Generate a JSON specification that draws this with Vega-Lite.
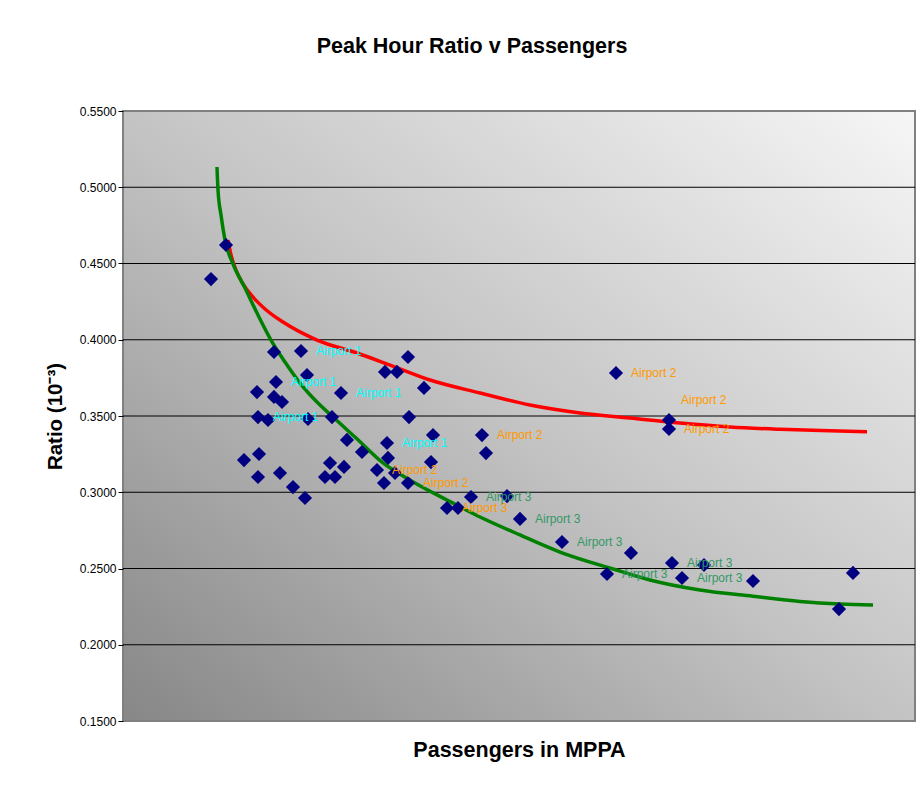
{
  "$schema": "https://vega.github.io/schema/vega-lite/v6.json",
  "width": 792,
  "height": 610,
  "autosize": {"type": "none"},
  "padding": {"left": 123, "top": 111, "right": 6, "bottom": 68},
  "background": "white",
  "config": {
    "view": {"stroke": null},
    "font": "Liberation Sans"
  },
  "title": {
    "text": "Peak Hour Ratio v Passengers",
    "fontSize": 21.5,
    "fontWeight": "bold",
    "font": "Liberation Sans",
    "color": "#000000",
    "anchor": "middle",
    "dx": -47,
    "offset": 48
  },
  "datasets": {
    "points": [
      {"id": 1, "mppa": 4.40, "ratio": 0.4398, "label": "", "group": "A1"},
      {"id": 2, "mppa": 5.15, "ratio": 0.4621, "label": "", "group": "A1"},
      {"id": 3, "mppa": 6.05, "ratio": 0.3211, "label": "", "group": "A1"},
      {"id": 4, "mppa": 6.70, "ratio": 0.3657, "label": "", "group": "A1"},
      {"id": 5, "mppa": 6.80, "ratio": 0.3251, "label": "", "group": "A1"},
      {"id": 6, "mppa": 6.75, "ratio": 0.3100, "label": "", "group": "A1"},
      {"id": 7, "mppa": 6.75, "ratio": 0.3493, "label": "Airport 1", "group": "A1"},
      {"id": 8, "mppa": 7.25, "ratio": 0.3474, "label": "", "group": "A1"},
      {"id": 9, "mppa": 7.55, "ratio": 0.3920, "label": "", "group": "A1"},
      {"id": 10, "mppa": 7.65, "ratio": 0.3723, "label": "Airport 1", "group": "A1"},
      {"id": 11, "mppa": 7.55, "ratio": 0.3625, "label": "", "group": "A1"},
      {"id": 12, "mppa": 7.95, "ratio": 0.3592, "label": "", "group": "A1"},
      {"id": 13, "mppa": 7.85, "ratio": 0.3126, "label": "", "group": "A1"},
      {"id": 14, "mppa": 8.50, "ratio": 0.3034, "label": "", "group": "A1"},
      {"id": 15, "mppa": 8.90, "ratio": 0.3926, "label": "Airport 1", "group": "A1"},
      {"id": 16, "mppa": 9.10, "ratio": 0.2962, "label": "", "group": "A1"},
      {"id": 17, "mppa": 9.20, "ratio": 0.3769, "label": "", "group": "A1"},
      {"id": 18, "mppa": 9.25, "ratio": 0.3480, "label": "", "group": "A1"},
      {"id": 19, "mppa": 10.10, "ratio": 0.3100, "label": "", "group": "A1"},
      {"id": 20, "mppa": 10.35, "ratio": 0.3192, "label": "", "group": "A1"},
      {"id": 21, "mppa": 10.60, "ratio": 0.3100, "label": "", "group": "A1"},
      {"id": 22, "mppa": 10.45, "ratio": 0.3493, "label": "", "group": "A1"},
      {"id": 23, "mppa": 10.90, "ratio": 0.3651, "label": "Airport 1", "group": "A1"},
      {"id": 24, "mppa": 11.20, "ratio": 0.3343, "label": "", "group": "A1"},
      {"id": 25, "mppa": 11.05, "ratio": 0.3166, "label": "", "group": "A1"},
      {"id": 26, "mppa": 11.95, "ratio": 0.3264, "label": "", "group": "A1"},
      {"id": 27, "mppa": 12.70, "ratio": 0.3146, "label": "Airport 2", "group": "A2"},
      {"id": 28, "mppa": 13.10, "ratio": 0.3789, "label": "", "group": "A1"},
      {"id": 29, "mppa": 13.20, "ratio": 0.3323, "label": "Airport 1", "group": "A1"},
      {"id": 30, "mppa": 13.25, "ratio": 0.3225, "label": "", "group": "A1"},
      {"id": 31, "mppa": 13.05, "ratio": 0.3061, "label": "", "group": "A1"},
      {"id": 32, "mppa": 13.70, "ratio": 0.3789, "label": "", "group": "A1"},
      {"id": 33, "mppa": 14.25, "ratio": 0.3887, "label": "", "group": "A1"},
      {"id": 34, "mppa": 13.60, "ratio": 0.3126, "label": "", "group": "A1"},
      {"id": 35, "mppa": 14.30, "ratio": 0.3493, "label": "", "group": "A1"},
      {"id": 36, "mppa": 14.25, "ratio": 0.3061, "label": "Airport 2", "group": "A2"},
      {"id": 37, "mppa": 15.05, "ratio": 0.3684, "label": "", "group": "A1"},
      {"id": 38, "mppa": 15.50, "ratio": 0.3375, "label": "", "group": "A1"},
      {"id": 39, "mppa": 15.40, "ratio": 0.3198, "label": "", "group": "A1"},
      {"id": 40, "mppa": 16.20, "ratio": 0.2897, "label": "Airport 3", "group": "A2"},
      {"id": 41, "mppa": 16.75, "ratio": 0.2897, "label": "", "group": "A1"},
      {"id": 42, "mppa": 17.40, "ratio": 0.2969, "label": "Airport 3", "group": "A3"},
      {"id": 43, "mppa": 17.95, "ratio": 0.3375, "label": "Airport 2", "group": "A2"},
      {"id": 44, "mppa": 18.15, "ratio": 0.3257, "label": "", "group": "A1"},
      {"id": 45, "mppa": 19.20, "ratio": 0.2975, "label": "", "group": "A1"},
      {"id": 46, "mppa": 19.85, "ratio": 0.2825, "label": "Airport 3", "group": "A3"},
      {"id": 47, "mppa": 21.95, "ratio": 0.2674, "label": "Airport 3", "group": "A3"},
      {"id": 48, "mppa": 24.20, "ratio": 0.2464, "label": "Airport 3", "group": "A3"},
      {"id": 49, "mppa": 24.65, "ratio": 0.3782, "label": "Airport 2", "group": "A2"},
      {"id": 50, "mppa": 25.40, "ratio": 0.2602, "label": "", "group": "A1"},
      {"id": 51, "mppa": 27.30, "ratio": 0.3474, "label": "Airport 2", "group": "A2"},
      {"id": 52, "mppa": 27.30, "ratio": 0.3415, "label": "Airport 2", "group": "A2"},
      {"id": 53, "mppa": 27.45, "ratio": 0.2536, "label": "Airport 3", "group": "A3"},
      {"id": 54, "mppa": 27.95, "ratio": 0.2438, "label": "Airport 3", "group": "A3"},
      {"id": 55, "mppa": 29.05, "ratio": 0.2523, "label": "", "group": "A1"},
      {"id": 56, "mppa": 31.50, "ratio": 0.2418, "label": "", "group": "A1"},
      {"id": 57, "mppa": 35.80, "ratio": 0.2234, "label": "", "group": "A1"},
      {"id": 58, "mppa": 36.50, "ratio": 0.2471, "label": "", "group": "A1"}
    ],
    "red": [
      {"mppa": 5.25, "ratio": 0.4654},
      {"mppa": 5.40, "ratio": 0.4556},
      {"mppa": 5.65, "ratio": 0.4457},
      {"mppa": 6.00, "ratio": 0.4366},
      {"mppa": 6.45, "ratio": 0.4287},
      {"mppa": 7.10, "ratio": 0.4202},
      {"mppa": 8.00, "ratio": 0.4116},
      {"mppa": 9.70, "ratio": 0.3998},
      {"mppa": 11.70, "ratio": 0.3913},
      {"mppa": 13.35, "ratio": 0.3834},
      {"mppa": 15.35, "ratio": 0.3736},
      {"mppa": 17.85, "ratio": 0.3651},
      {"mppa": 20.35, "ratio": 0.3572},
      {"mppa": 22.85, "ratio": 0.3520},
      {"mppa": 25.35, "ratio": 0.3487},
      {"mppa": 27.85, "ratio": 0.3454},
      {"mppa": 30.35, "ratio": 0.3428},
      {"mppa": 32.85, "ratio": 0.3413},
      {"mppa": 35.35, "ratio": 0.3403},
      {"mppa": 37.20, "ratio": 0.3397}
    ],
    "green": [
      {"mppa": 4.70, "ratio": 0.5133},
      {"mppa": 4.75, "ratio": 0.4982},
      {"mppa": 4.90, "ratio": 0.4818},
      {"mppa": 5.10, "ratio": 0.4654},
      {"mppa": 5.50, "ratio": 0.4497},
      {"mppa": 6.10, "ratio": 0.4339},
      {"mppa": 6.75, "ratio": 0.4162},
      {"mppa": 7.40, "ratio": 0.3998},
      {"mppa": 8.10, "ratio": 0.3854},
      {"mppa": 8.85, "ratio": 0.3716},
      {"mppa": 9.65, "ratio": 0.3598},
      {"mppa": 10.50, "ratio": 0.3493},
      {"mppa": 11.60, "ratio": 0.3362},
      {"mppa": 13.00, "ratio": 0.3192},
      {"mppa": 14.60, "ratio": 0.3061},
      {"mppa": 16.20, "ratio": 0.2949},
      {"mppa": 17.85, "ratio": 0.2838},
      {"mppa": 19.85, "ratio": 0.2720},
      {"mppa": 21.85, "ratio": 0.2608},
      {"mppa": 24.50, "ratio": 0.2497},
      {"mppa": 26.35, "ratio": 0.2425},
      {"mppa": 28.85, "ratio": 0.2359},
      {"mppa": 31.50, "ratio": 0.2318},
      {"mppa": 33.85, "ratio": 0.2284},
      {"mppa": 35.85, "ratio": 0.2267},
      {"mppa": 37.50, "ratio": 0.2261}
    ],
    "grid": [
      {"ratio": 0.20}, {"ratio": 0.25}, {"ratio": 0.30}, {"ratio": 0.35},
      {"ratio": 0.40}, {"ratio": 0.45}, {"ratio": 0.50}
    ]
  },
  "layer": [
    {
      "data": {"values": [{"k": 1}]},
      "mark": {
        "type": "rect",
        "stroke": "#808080",
        "strokeWidth": 2,
        "color": {
          "gradient": "linear",
          "x1": 0, "y1": 1, "x2": 1, "y2": 0,
          "stops": [
            {"offset": 0, "color": "#878787"},
            {"offset": 0.5, "color": "#c4c4c4"},
            {"offset": 1, "color": "#f6f6f6"}
          ]
        }
      },
      "encoding": {
        "x": {"datum": 0, "type": "quantitative"},
        "x2": {"datum": 39.6},
        "y": {"datum": 0.15, "type": "quantitative"},
        "y2": {"datum": 0.55}
      }
    },
    {
      "data": {"name": "grid"},
      "mark": {"type": "rule", "color": "#000000", "strokeWidth": 1},
      "encoding": {
        "y": {"field": "ratio", "type": "quantitative"}
      }
    },
    {
      "data": {"name": "red"},
      "mark": {"type": "line", "color": "#ff0000", "strokeWidth": 3.5, "interpolate": "monotone"},
      "encoding": {
        "x": {"field": "mppa", "type": "quantitative"},
        "y": {"field": "ratio", "type": "quantitative"}
      }
    },
    {
      "data": {"name": "green"},
      "mark": {"type": "line", "color": "#008000", "strokeWidth": 3.5, "interpolate": "monotone"},
      "encoding": {
        "x": {"field": "mppa", "type": "quantitative"},
        "y": {"field": "ratio", "type": "quantitative"}
      }
    },
    {
      "data": {"name": "points"},
      "mark": {"type": "point", "shape": "diamond", "filled": true, "color": "#000080", "size": 200, "opacity": 1},
      "encoding": {
        "x": {
          "field": "mppa",
          "type": "quantitative",
          "scale": {"domain": [0, 39.6], "nice": false, "zero": false},
          "axis": {
            "title": "Passengers in MPPA",
            "labels": false,
            "ticks": false,
            "domain": false,
            "grid": false,
            "titleFontSize": 21.5,
            "titleFontWeight": "bold",
            "titleFont": "Liberation Sans",
            "titleColor": "#000000",
            "titlePadding": 18
          }
        },
        "y": {
          "field": "ratio",
          "type": "quantitative",
          "scale": {"domain": [0.15, 0.55], "nice": false, "zero": false},
          "axis": {
            "title": "Ratio (10⁻³)",
            "values": [0.15, 0.2, 0.25, 0.3, 0.35, 0.4, 0.45, 0.5, 0.55],
            "format": ".4f",
            "grid": false,
            "domain": false,
            "tickColor": "#000000",
            "tickSize": 5,
            "labelFontSize": 12,
            "labelFont": "Liberation Sans",
            "labelColor": "#000000",
            "labelPadding": 2,
            "titleFontSize": 20.5,
            "titleFontWeight": "bold",
            "titleFont": "Liberation Sans",
            "titleColor": "#000000",
            "titlePadding": 14,
            "zindex": 1
          }
        }
      }
    },
    {
      "data": {"name": "points"},
      "transform": [{"filter": "datum.label != '' && datum.id != 51"}],
      "mark": {"type": "text", "align": "left", "baseline": "middle", "dx": 15, "fontSize": 12, "font": "Liberation Sans"},
      "encoding": {
        "x": {"field": "mppa", "type": "quantitative"},
        "y": {"field": "ratio", "type": "quantitative"},
        "text": {"field": "label"},
        "color": {
          "field": "group",
          "type": "nominal",
          "scale": {"domain": ["A1", "A2", "A3"], "range": ["#00ffff", "#ff9900", "#339966"]},
          "legend": null
        }
      }
    },
    {
      "data": {"name": "points"},
      "transform": [{"filter": "datum.id == 51"}],
      "mark": {"type": "text", "align": "left", "baseline": "middle", "dx": 12, "dy": -20, "fontSize": 12, "font": "Liberation Sans"},
      "encoding": {
        "x": {"field": "mppa", "type": "quantitative"},
        "y": {"field": "ratio", "type": "quantitative"},
        "text": {"field": "label"},
        "color": {
          "field": "group",
          "type": "nominal",
          "scale": {"domain": ["A1", "A2", "A3"], "range": ["#00ffff", "#ff9900", "#339966"]},
          "legend": null
        }
      }
    }
  ]
}
